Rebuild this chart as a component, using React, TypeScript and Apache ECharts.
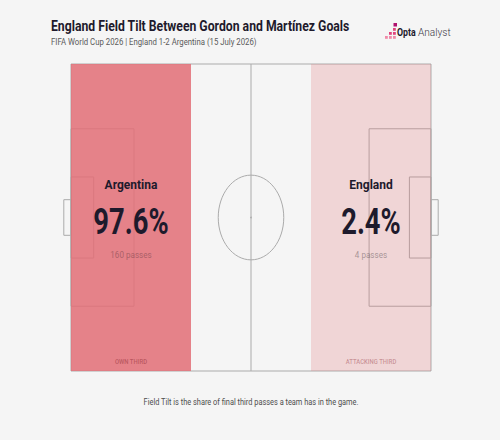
import React, { useEffect, useRef } from "react";
import * as echarts from "echarts";

// ---- data ----
const teams = ["Argentina", "England"];
const fieldTiltPct = [97.6, 2.4];
const finalThirdPasses = [160, 4];
const thirdLabels = ["OWN THIRD", "ATTACKING THIRD"];
// pitch thirds (Opta 0-100 pitch units) where each team's share is shown
const thirdStart = [0, 200 / 3];
const thirdEnd = [100 / 3, 100];

const titleText = "England Field Tilt Between Gordon and Martínez Goals";
const subtitleText = "FIFA World Cup 2026 | England 1-2 Argentina (15 July 2026)";
const footerText = "Field Tilt is the share of final third passes a team has in the game.";

// ---- styles ----
const FONT = "Roboto";
const DARK = "#1e1a2c";
const LINE = "#ababab";
const zoneFills = ["rgba(226,111,119,0.86)", "rgba(226,111,119,0.24)"];
const zoneLabelColors = ["rgba(150,50,60,0.55)", "rgba(150,60,70,0.45)"];
const passesColors = ["rgba(110,60,70,0.5)", "rgba(90,80,85,0.5)"];

function renderPitch(params: any, api: any) {
  const p = (x: number, y: number) => api.coord([x, y]);
  const stroke = { stroke: LINE, fill: "none", lineWidth: 1 };
  const rect = (x0: number, y0: number, x1: number, y1: number) => {
    const a = p(x0, y1);
    const b = p(x1, y0);
    return {
      type: "rect",
      shape: { x: a[0], y: a[1], width: b[0] - a[0], height: b[1] - a[1] },
      style: stroke,
    };
  };
  const c = p(50, 50);
  const ex = p(59.1, 50);
  const ey = p(50, 63.8);
  return {
    type: "group",
    children: [
      rect(0, 0, 100, 100),
      { type: "line", shape: { x1: c[0], y1: p(50, 0)[1], x2: c[0], y2: p(50, 100)[1] }, style: stroke },
      { type: "ellipse", shape: { cx: c[0], cy: c[1], rx: ex[0] - c[0], ry: c[1] - ey[1] }, style: stroke },
      { type: "circle", shape: { cx: c[0], cy: c[1], r: 0.8 }, style: { fill: LINE } },
      rect(0, 21.1, 17.5, 78.9),
      rect(0, 36.8, 6.3, 63.2),
      rect(-2, 44.2, 0, 55.8),
      rect(82.8, 21.1, 100, 78.9),
      rect(94.0, 36.8, 100, 63.2),
      rect(100, 44.2, 102, 55.8),
    ],
  };
}

function renderZones(params: any, api: any) {
  const i = api.value(2);
  const a = api.coord([api.value(0), 100]);
  const b = api.coord([api.value(1), 0]);
  const ly = api.coord([0, 3])[1];
  return {
    type: "group",
    children: [
      {
        type: "rect",
        shape: { x: a[0], y: a[1], width: b[0] - a[0], height: b[1] - a[1] },
        style: { fill: zoneFills[i] },
      },
      {
        type: "text",
        x: (a[0] + b[0]) / 2,
        y: ly,
        scaleX: 0.85,
        style: {
          text: thirdLabels[i],
          fill: zoneLabelColors[i],
          font: `500 7px ${FONT}`,
          align: "center",
          verticalAlign: "middle",
        },
      },
    ],
  };
}

function renderTeamText(params: any, api: any) {
  const i = api.value(1);
  const x = api.coord([api.value(0), 0])[0];
  const y = (v: number) => api.coord([0, v])[1];
  return {
    type: "group",
    children: [
      {
        type: "text",
        x,
        y: y(60.7),
        style: {
          text: teams[i],
          fill: DARK,
          font: `bold 12px ${FONT}`,
          align: "center",
          verticalAlign: "middle",
        },
      },
      {
        type: "text",
        x,
        y: y(48.6),
        scaleX: 0.74,
        style: {
          text: `${fieldTiltPct[i]}%`,
          fill: DARK,
          font: `bold 37px ${FONT}`,
          align: "center",
          verticalAlign: "middle",
        },
      },
      {
        type: "text",
        x,
        y: y(37.8),
        scaleX: 0.9,
        style: {
          text: `${finalThirdPasses[i]} passes`,
          fill: passesColors[i],
          font: `9px ${FONT}`,
          align: "center",
          verticalAlign: "middle",
        },
      },
    ],
  };
}

export default function App() {
  const ref = useRef<HTMLDivElement>(null);
  useEffect(() => {
    const chart = echarts.init(ref.current as HTMLDivElement, null, { renderer: "svg" });
    const zoneData = teams.map((t, i) => [thirdStart[i], thirdEnd[i], i]);
    const textData = teams.map((t, i) => [(thirdStart[i] + thirdEnd[i]) / 2, i]);
    const logoSquares = [
      [0, 12], [4, 12], [8, 12], [4, 8], [8, 8], [8, 4], [8.5, -1],
    ];
    chart.setOption({
      animation: false,
      backgroundColor: "#f5f5f5",
      grid: { left: 71, top: 64, width: 360, height: 307 },
      xAxis: { type: "value", min: 0, max: 100, show: false },
      yAxis: { type: "value", min: 0, max: 100, show: false },
      series: [
        { type: "custom", z: 1, silent: true, data: [[0]], renderItem: renderPitch },
        { type: "custom", z: 2, silent: true, data: zoneData, renderItem: renderZones },
        { type: "custom", z: 3, silent: true, data: textData, renderItem: renderTeamText },
      ],
      graphic: [
        {
          type: "text",
          x: 51,
          y: 26,
          scaleX: 0.815,
          style: { text: titleText, fill: DARK, font: `bold 15px ${FONT}`, verticalAlign: "middle" },
        },
        {
          type: "text",
          x: 51,
          y: 42,
          scaleX: 0.82,
          style: { text: subtitleText, fill: "#5a5a5a", font: `9.5px ${FONT}`, verticalAlign: "middle" },
        },
        {
          type: "text",
          x: 251,
          y: 402,
          scaleX: 0.78,
          style: { text: footerText, fill: "#4d4d4d", font: `9.5px ${FONT}`, align: "center", verticalAlign: "middle" },
        },
        {
          type: "group",
          x: 385,
          y: 24,
          children: logoSquares.map((s, k) => ({
            type: "rect",
            shape: { x: s[0], y: s[1], width: k === 6 ? 3.5 : 2.8, height: k === 6 ? 3.5 : 2.8 },
            style: { fill: k === 6 ? "#b0126e" : k >= 3 ? "#e0447e" : "#f08aa8" },
          })),
        },
        {
          type: "text",
          x: 397,
          y: 32,
          scaleX: 0.8,
          style: { text: "Opta", fill: DARK, font: `bold 11px ${FONT}`, verticalAlign: "middle" },
        },
        {
          type: "text",
          x: 418,
          y: 32,
          scaleX: 0.92,
          style: { text: "Analyst", fill: "#3a3545", font: `300 11px ${FONT}`, verticalAlign: "middle" },
        },
      ],
    });
    return () => chart.dispose();
  }, []);
  return (
    <div
      ref={ref}
      style={{ position: "fixed", left: 0, top: 0, width: 500, height: 440, background: "#f5f5f5" }}
    />
  );
}
